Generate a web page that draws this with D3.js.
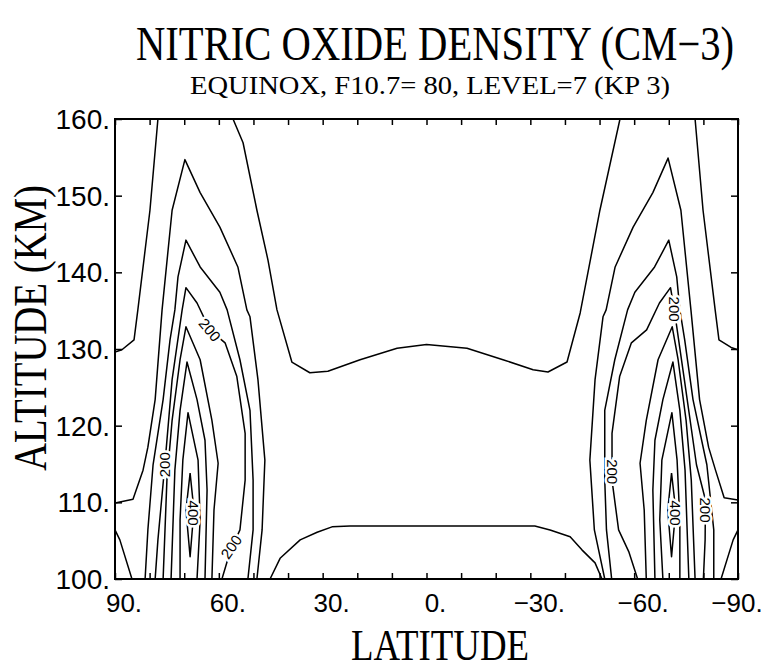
<!DOCTYPE html>
<html>
<head>
<meta charset="utf-8">
<script src="https://cdn.jsdelivr.net/npm/d3@7"></script>
<style>
  html, body { margin: 0; padding: 0; background: #fff; }
  svg { display: block; }
</style>
</head>
<body>
<svg id="chart" width="777" height="671"></svg>
<script>
// ---- axis ticks and labels ----
const latTicks = [90, 60, 30, 0, -30, -60, -90];
const latTickLabels = ["90.", "60.", "30.", "0.", "\u221230.", "\u221260.", "\u221290."];
const latMinorTicks = [90, 80, 70, 60, 50, 40, 30, 20, 10, 0, -10, -20, -30, -40, -50, -60, -70, -80, -90];
const altTicks = [100, 110, 120, 130, 140, 150, 160];
const altTickLabels = ["100.", "110.", "120.", "130.", "140.", "150.", "160."];

// ---- contour lines, [latitude, altitude km] ----
// central minimum, upper and lower boundaries
const c50Upper = [[55.9,160],[53.0,156.9],[49.0,148.1],[45.8,141.6],[43.2,135.1],[38.9,128.3],[33.7,126.9],[28.5,127.1],[19.2,128.6],[8.5,130.1],[0,130.6],[-11.7,130.1],[-22.1,128.6],[-30.8,127.3],[-35.1,127.0],[-40.6,128.3],[-44.4,134.7],[-50.1,148.1],[-55.9,160]];
const c50Lower = [[45.2,100],[42.3,102.7],[36.5,105.1],[31.6,106.1],[27.3,106.8],[22.1,106.9],[-31.3,106.9],[-35.7,106.4],[-41.5,105.5],[-44.9,103.8],[-48.7,102.1],[-50.7,100]];

// northern auroral maximum
const n50 = [[77.6,160],[79.9,148.1],[83.4,135.1],[84.5,131.2],[88.0,129.9],[90,129.6]];
const n100 = [[90,109.9],[84.8,110.4],[81.9,114.2],[80.5,117.2],[78.4,123.4],[76.4,135.1],[73.5,148.1],[69.8,154.7],[65.4,150.4],[59.7,145.9],[54.5,140.7],[51.9,135.1],[51.0,134.2],[48.7,126.0],[46.7,115.5],[47.5,106.4],[49.0,100]];
const n150Pole = [[90,106.4],[88.6,105.1],[85.1,100]];
const n150 = [[81.3,100],[80.5,106.4],[79.0,114.9],[76.1,123.4],[74.1,131.2],[72.7,135.1],[71.8,139.4],[69.5,144.2],[65.4,140.7],[59.7,137.4],[57.6,135.1],[53.9,128.6],[51.0,122.0],[50.1,112.9],[50.1,106.4],[51.6,100]];
const n200 = [[78.4,100],[77.6,105.1],[75.6,114.9],[73.5,126.0],[70.6,135.1],[69.5,138.0],[66.3,136.0],[62.6,132.5],[58.2,130.8],[54.8,126.4],[52.4,119.0],[52.4,112.9],[53.9,106.4],[56.8,103.5],[59.1,100]];
const n250 = [[76.1,100],[75.0,112.9],[73.5,120.7],[71.2,128.6],[69.5,132.9],[65.4,128.6],[62.0,120.7],[60.2,115.1],[61.4,109.0],[62.0,100]];
const n300 = [[73.8,100],[72.7,114.2],[71.2,122.0],[69.2,128.3],[66.3,123.4],[64.0,118.1],[63.4,111.6],[64.0,100]];
const n350 = [[71.2,100],[71.2,107.7],[70.4,115.5],[68.9,121.7],[66.0,115.5],[65.4,107.7],[66.3,100]];
const n400 = [[68.3,113.8],[67.2,109.0],[68.3,102.9],[69.5,109.0],[68.3,113.8]];

// southern auroral maximum
const s50 = [[-77.6,160],[-79.9,148.1],[-83.4,135.1],[-84.5,131.2],[-88.0,130.2],[-90,129.9]];
const s100 = [[-90,110.3],[-86.0,110.6],[-83.5,114.2],[-81.5,117.2],[-78.9,123.4],[-76.4,135.1],[-73.5,148.1],[-69.8,154.9],[-65.4,150.4],[-59.7,145.9],[-54.5,140.7],[-51.9,135.1],[-51.0,134.2],[-48.7,126.0],[-47.2,115.5],[-48.5,106.4],[-51.5,100]];
const s150Pole = [[-90,106.4],[-88.6,105.1],[-85.1,100]];
const s150 = [[-83.0,100],[-83.0,106.4],[-81.0,114.9],[-77.0,123.4],[-74.6,131.2],[-73.2,135.1],[-72.3,139.4],[-70.0,144.2],[-65.9,140.7],[-60.2,137.4],[-58.1,135.1],[-54.4,128.6],[-51.5,122.0],[-51.5,112.9],[-52.0,106.4],[-53.5,100]];
const s200 = [[-80.0,100],[-80.5,105.1],[-80.6,110.3],[-78.0,114.9],[-74.5,126.0],[-71.6,135.1],[-70.5,138.0],[-67.3,136.0],[-63.6,132.5],[-59.2,130.8],[-55.8,126.4],[-53.6,119.0],[-53.6,112.9],[-55.5,106.4],[-58.5,103.5],[-61.0,100]];
const s250 = [[-77.6,100],[-76.5,112.9],[-75.0,120.7],[-72.7,128.6],[-71.0,132.9],[-66.9,128.6],[-63.5,120.7],[-61.7,115.1],[-62.9,109.0],[-63.5,100]];
const s300 = [[-75.8,100],[-74.7,114.2],[-73.2,122.0],[-71.2,128.3],[-68.3,123.4],[-66.0,118.1],[-65.4,111.6],[-66.0,100]];
const s350 = [[-73.2,100],[-73.2,107.7],[-72.4,115.5],[-70.9,121.7],[-68.0,115.5],[-67.4,107.7],[-68.3,100]];
const s400 = [[-70.8,113.8],[-69.7,109.0],[-70.8,102.9],[-72.0,109.0],[-70.8,113.8]];

// contour value labels: text, latitude, altitude, rotation (deg)
const labelText = ["200", "200", "400", "200", "200", "200", "400", "200"];
const labelLat  = [62.6, 75.6, 67.4, 56.4, -71.6, -53.6, -72.0, -80.6];
const labelAlt  = [132.5, 114.9, 108.6, 104.2, 135.2, 114.0, 108.6, 109.0];
const labelRot  = [50, -90, 90, -55, 90, 90, 90, 90];

const contourSets = [c50Upper, c50Lower,
                     n50, n100, n150Pole, n150, n200, n250, n300, n350, n400,
                     s50, s100, s150Pole, s150, s200, s250, s300, s350, s400];

// ---- layout ----
const svg = d3.select("#chart");
const W = 777, H = 671;
const plot = { left: 115, right: 738, top: 119, bottom: 579 };

const x = d3.scaleLinear().domain([90, -90]).range([plot.left, plot.right]);
const y = d3.scaleLinear().domain([100, 160]).range([plot.bottom, plot.top]);

svg.append("rect").attr("width", W).attr("height", H).attr("fill", "#fff");

// titles (narrow, tall lettering)
svg.append("text")
  .attr("transform", "translate(435,60) scale(1,1.2)")
  .attr("text-anchor", "middle")
  .attr("font-family", "Liberation Serif, serif")
  .attr("font-size", 40)
  .attr("textLength", 598).attr("lengthAdjust", "spacingAndGlyphs")
  .text("NITRIC OXIDE DENSITY (CM\u22123)");

svg.append("text")
  .attr("x", 430).attr("y", 94)
  .attr("text-anchor", "middle")
  .attr("font-family", "Liberation Serif, serif")
  .attr("font-size", 26)
  .attr("textLength", 480).attr("lengthAdjust", "spacingAndGlyphs")
  .text("EQUINOX,  F10.7= 80, LEVEL=7 (KP 3)");

// contours
svg.append("clipPath").attr("id", "plotClip")
  .append("rect").attr("x", plot.left).attr("y", plot.top)
  .attr("width", plot.right - plot.left).attr("height", plot.bottom - plot.top);

const line = d3.line().x(d => x(d[0])).y(d => y(d[1])).curve(d3.curveLinear);
const gC = svg.append("g").attr("clip-path", "url(#plotClip)");
gC.selectAll("path.contour")
  .data(contourSets)
  .join("path")
  .attr("class", "contour")
  .attr("d", line)
  .attr("fill", "none")
  .attr("stroke", "#000")
  .attr("stroke-width", 1.5)
  .attr("stroke-linejoin", "round");

// contour labels; the white halo breaks the line under the text
const labels = labelText.map((t, i) => ({ t, lat: labelLat[i], alt: labelAlt[i], rot: labelRot[i] }));
gC.selectAll("text.clabel")
  .data(labels)
  .join("text")
  .attr("class", "clabel")
  .attr("transform", d => `translate(${x(d.lat)},${y(d.alt)}) rotate(${d.rot})`)
  .attr("text-anchor", "middle")
  .attr("dy", "0.36em")
  .attr("font-family", "Liberation Sans, sans-serif")
  .attr("font-size", 15)
  .attr("stroke", "#fff").attr("stroke-width", 5).attr("paint-order", "stroke")
  .attr("fill", "#000")
  .text(d => d.t);

// frame
svg.append("rect")
  .attr("x", plot.left).attr("y", plot.top)
  .attr("width", plot.right - plot.left).attr("height", plot.bottom - plot.top)
  .attr("fill", "none").attr("stroke", "#000").attr("stroke-width", 2);

// inward ticks on all four sides
const axStyle = g => {
  g.select(".domain").remove();
  g.selectAll(".tick line").attr("stroke", "#000").attr("stroke-width", 1.5);
  g.selectAll(".tick text").remove();
};
svg.append("g").attr("transform", `translate(0,${plot.bottom})`)
  .call(d3.axisBottom(x).tickValues(latMinorTicks).tickSize(-6)).call(axStyle);
svg.append("g").attr("transform", `translate(0,${plot.top})`)
  .call(d3.axisTop(x).tickValues(latMinorTicks).tickSize(-6)).call(axStyle);
svg.append("g").attr("transform", `translate(${plot.left},0)`)
  .call(d3.axisLeft(y).tickValues(altTicks).tickSize(-7)).call(axStyle);
svg.append("g").attr("transform", `translate(${plot.right},0)`)
  .call(d3.axisRight(y).tickValues(altTicks).tickSize(-7)).call(axStyle);

// tick labels
svg.append("g").selectAll("text")
  .data(latTicks)
  .join("text")
  .attr("x", (d, i) => x(d) + (i === latTicks.length - 1 ? -1 : 9))
  .attr("y", 612)
  .attr("text-anchor", "middle")
  .attr("font-family", "Liberation Sans, Arial, sans-serif")
  .attr("font-size", 26)
  .text((d, i) => latTickLabels[i]);

svg.append("g").selectAll("text")
  .data(altTicks)
  .join("text")
  .attr("x", 110)
  .attr("y", d => y(d))
  .attr("dy", "0.36em")
  .attr("text-anchor", "end")
  .attr("font-family", "Liberation Sans, Arial, sans-serif")
  .attr("font-size", 28)
  .text((d, i) => altTickLabels[i]);

// axis titles
svg.append("text")
  .attr("transform", "translate(440,660) scale(1,1.3)")
  .attr("text-anchor", "middle")
  .attr("font-family", "Liberation Serif, serif")
  .attr("font-size", 34)
  .attr("textLength", 178).attr("lengthAdjust", "spacingAndGlyphs")
  .text("LATITUDE");

svg.append("text")
  .attr("transform", "translate(46,328) rotate(-90) scale(1,1.2)")
  .attr("text-anchor", "middle")
  .attr("font-family", "Liberation Serif, serif")
  .attr("font-size", 38)
  .attr("textLength", 286).attr("lengthAdjust", "spacingAndGlyphs")
  .text("ALTITUDE (KM)");
</script>
</body>
</html>
